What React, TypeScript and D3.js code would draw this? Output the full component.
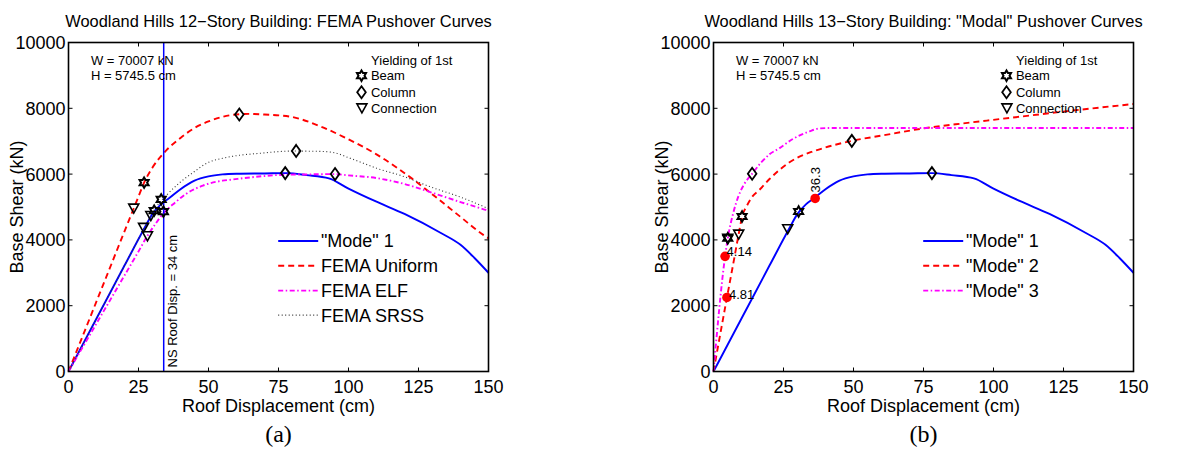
import React from 'react';
import * as d3 from 'd3';

const FONT = '"Liberation Sans", Arial, Helvetica, sans-serif';
const SERIF = '"Liberation Serif", "Times New Roman", serif';

// Shared axes
const xTicks = [0, 25, 50, 75, 100, 125, 150];
const yTicks = [0, 2000, 4000, 6000, 8000, 10000];
const xDomain = [0, 150];
const yDomain = [0, 10000];

// Panel (a): 12-story building, FEMA load patterns
const mode1X = [0, 10, 20, 27, 30, 33, 36, 40, 45, 50, 55, 60, 70, 78, 85, 93, 100, 110, 120, 133, 140, 145, 150];
const mode1Y = [0, 1610, 3220, 4340, 4790, 5080, 5270, 5540, 5800, 5930, 5990, 6010, 6020, 6030, 5970, 5870, 5560, 5160, 4790, 4210, 3850, 3450, 3000];

const uniformX = [0, 10, 20, 25, 27, 30, 35, 40, 45, 50, 55, 61, 65, 70, 79, 90, 98, 110, 124, 130, 140, 148, 150];
const uniformY = [0, 2130, 4260, 5320, 5740, 6200, 6730, 7100, 7400, 7600, 7740, 7820, 7830, 7810, 7750, 7450, 7140, 6600, 5780, 5380, 4700, 4160, 4050];

const elfX = [0, 10, 20, 25, 28, 31, 34, 38, 42, 48, 55, 58, 65, 77, 85, 95, 100, 110, 115, 120, 130, 140, 149, 150];
const elfY = [0, 1460, 2920, 3650, 4100, 4480, 4820, 5130, 5400, 5650, 5800, 5830, 5900, 5980, 5990, 6000, 5960, 5880, 5800, 5700, 5430, 5150, 4910, 4880];

const srssX = [0, 10, 20, 25, 29, 32, 35, 40, 45, 50, 55, 60, 68, 80, 90, 95, 100, 105, 110, 120, 129, 140, 150];
const srssY = [0, 1610, 3220, 4030, 4670, 5080, 5360, 5760, 6080, 6360, 6480, 6560, 6630, 6700, 6690, 6650, 6500, 6340, 6180, 5920, 5620, 5300, 4950];

// First-yield markers, panel (a): [displacement, base shear]
const beamA: [number, number][] = [[27, 5740], [30.6, 4890], [33.9, 4860], [33.1, 5230]];
const columnA: [number, number][] = [[61, 7810], [77.4, 6030], [95.2, 6000], [81.3, 6705]];
const connectionA: [number, number][] = [[23.3, 4966], [26.8, 4380], [28.2, 4125], [29.4, 4740]];

const nsRoofDisp = 34;

// Panel (b): 13-story building, modal patterns
const mode2X = [0, 4.81, 7, 9, 10.2, 12, 14, 16.4, 20, 23.6, 27, 30.7, 35.5, 40, 49.4, 60, 75.9, 90, 102, 125, 150];
const mode2Y = [0, 2250, 3250, 4180, 4700, 5050, 5330, 5520, 5850, 6130, 6350, 6530, 6690, 6810, 7010, 7170, 7400, 7550, 7670, 7900, 8130];

const mode3X = [0, 4.14, 5.1, 7, 9, 11, 13.8, 17, 20, 23.6, 28, 34.3, 38, 42, 150];
const mode3Y = [0, 3500, 4050, 4800, 5350, 5700, 6010, 6350, 6600, 6790, 7050, 7300, 7390, 7400, 7400];

const beamB: [number, number][] = [[30.4, 4863], [10.2, 4711], [5.1, 4050]];
const columnB: [number, number][] = [[78, 6030], [49.4, 7010], [13.8, 6009]];
const connectionB: [number, number][] = [[26.5, 4337], [9.0, 4176], [5.1, 4050]];

// Labelled points (roof displacement value, base shear)
const dotX = [4.14, 4.81, 36.3];
const dotY = [3500, 2250, 5260];
const dotLabels = ['4.14', '4.81', '36.3'];

const zip = (xs: number[], ys: number[]): [number, number][] => xs.map((x, i) => [x, ys[i]]);

const PW = 420;
const PH = 329;
const TOP = 42.5;

const hexPath = (() => {
  const ro = 5.2, ri = ro / Math.sqrt(3);
  const pts: string[] = [];
  for (let i = 0; i < 12; i++) {
    const a = (-90 + i * 30) * Math.PI / 180;
    const r = i % 2 === 0 ? ro : ri;
    pts.push(`${(r * Math.cos(a)).toFixed(2)},${(r * Math.sin(a)).toFixed(2)}`);
  }
  return 'M' + pts.join('L') + 'Z';
})();
const diamondPath = 'M0,-6L4.3,0L0,6L-4.3,0Z';
const triPath = 'M-5,-4L5,-4L0,5Z';

type Series = { data: [number, number][]; color: string; dash?: string; width: number; name: string };

function Marker({ d, x, y, w = 1.6 }: { d: string; x: number; y: number; w?: number }) {
  return <path d={d} transform={`translate(${x},${y})`} fill="none" stroke="#000" strokeWidth={w} strokeLinejoin="miter" />;
}

function Panel(props: {
  left: number;
  title: string;
  label: string;
  series: Series[];
  beam: [number, number][];
  column: [number, number][];
  connection: [number, number][];
  extra?: (x: d3.ScaleLinear<number, number>, y: d3.ScaleLinear<number, number>) => React.ReactNode;
}) {
  const { left, title, label, series, beam, column, connection, extra } = props;
  const x = d3.scaleLinear().domain(xDomain).range([0, PW]);
  const y = d3.scaleLinear().domain(yDomain).range([PH, 0]);
  const line = d3.line<[number, number]>().x(d => x(d[0])).y(d => y(d[1])).curve(d3.curveMonotoneX);
  const legendY = [198.5, 223.3, 248.1, 272.6];
  const tickLen = 4;
  return (
    <g transform={`translate(${left},${TOP})`} fontFamily={FONT}>
      <text x={PW / 2} y={-15.8} textAnchor="middle" fontSize={16.4}>{title}</text>
      {series.map((s, i) => (
        <path key={i} d={line(s.data) || ''} fill="none" stroke={s.color} strokeWidth={s.width}
          strokeDasharray={s.dash} />
      ))}
      {extra && extra(x, y)}
      {beam.map((p, i) => <Marker key={'b' + i} d={hexPath} x={x(p[0])} y={y(p[1])} w={2} />)}
      {column.map((p, i) => <Marker key={'c' + i} d={diamondPath} x={x(p[0])} y={y(p[1])} w={1.8} />)}
      {connection.map((p, i) => <Marker key={'n' + i} d={triPath} x={x(p[0])} y={y(p[1])} />)}

      {/* axes box with inward ticks */}
      <rect x={0} y={0} width={PW} height={PH} fill="none" stroke="#000" strokeWidth={1.6} />
      {xTicks.map(t => (
        <g key={'xt' + t}>
          <line x1={x(t)} x2={x(t)} y1={PH} y2={PH - tickLen} stroke="#000" strokeWidth={1} />
          <line x1={x(t)} x2={x(t)} y1={0} y2={tickLen} stroke="#000" strokeWidth={1} />
          <text x={x(t)} y={PH + 21} textAnchor="middle" fontSize={18}>{t}</text>
        </g>
      ))}
      {yTicks.map(t => (
        <g key={'yt' + t}>
          <line x1={0} x2={tickLen} y1={y(t)} y2={y(t)} stroke="#000" strokeWidth={1} />
          <line x1={PW} x2={PW - tickLen} y1={y(t)} y2={y(t)} stroke="#000" strokeWidth={1} />
          <text x={-3} y={y(t)} dy="0.36em" textAnchor="end" fontSize={18}>{t}</text>
        </g>
      ))}
      <text x={PW / 2} y={PH + 40} textAnchor="middle" fontSize={18}>Roof Displacement (cm)</text>
      <text transform={`translate(-45.5,${PH / 2}) rotate(-90)`} textAnchor="middle" fontSize={18}>Base Shear (kN)</text>

      {/* building data */}
      <text x={22.4} y={22} fontSize={13}>W = 70007 kN</text>
      <text x={22.4} y={37.8} fontSize={13}>H = 5745.5 cm</text>

      {/* yield marker key */}
      <text x={302.6} y={22} fontSize={13}>Yielding of 1st</text>
      <Marker d={hexPath} x={293} y={33.2} w={2} />
      <text x={302.4} y={37.8} fontSize={13}>Beam</text>
      <Marker d={diamondPath} x={293} y={49.8} w={1.8} />
      <text x={302.4} y={54.4} fontSize={13}>Column</text>
      <Marker d={triPath} x={293.4} y={65.4} />
      <text x={302.4} y={70.4} fontSize={13}>Connection</text>

      {/* series legend */}
      {series.map((s, i) => (
        <g key={'lg' + i}>
          <line x1={209.7} x2={249.7} y1={legendY[i]} y2={legendY[i]} stroke={s.color}
            strokeWidth={s.width} strokeDasharray={s.dash} />
          <text x={252.4} y={legendY[i]} dy="0.36em" fontSize={18}>{s.name}</text>
        </g>
      ))}

      <text x={PW / 2} y={399.5} textAnchor="middle" fontSize={24} fontFamily={SERIF}>{label}</text>
    </g>
  );
}

export default function App() {
  const seriesA: Series[] = [
    { data: zip(mode1X, mode1Y), color: '#0000ff', width: 1.9, name: '"Mode" 1' },
    { data: zip(uniformX, uniformY), color: '#ff0000', width: 1.9, dash: '6,4', name: 'FEMA Uniform' },
    { data: zip(elfX, elfY), color: '#ff00ff', width: 1.9, dash: '5,2.5,1.5,2.5', name: 'FEMA ELF' },
    { data: zip(srssX, srssY), color: '#333333', width: 1.1, dash: '1,2.5', name: 'FEMA SRSS' },
  ];
  const seriesB: Series[] = [
    { data: zip(mode1X, mode1Y), color: '#0000ff', width: 1.9, name: '"Mode" 1' },
    { data: zip(mode2X, mode2Y), color: '#ff0000', width: 1.9, dash: '6,4', name: '"Mode" 2' },
    { data: zip(mode3X, mode3Y), color: '#ff00ff', width: 1.9, dash: '5,2.5,1.5,2.5', name: '"Mode" 3' },
  ];
  return (
    <svg width={1179} height={456} style={{ position: 'absolute', left: 0, top: 0, background: '#fff' }}>
      <rect width={1179} height={456} fill="#fff" />
      <Panel
        left={68.5}
        title="Woodland Hills 12−Story Building: FEMA Pushover Curves"
        label="(a)"
        series={seriesA}
        beam={beamA}
        column={columnA}
        connection={connectionA}
        extra={(x, y) => (
          <g>
            <line x1={x(nsRoofDisp)} x2={x(nsRoofDisp)} y1={0} y2={PH} stroke="#0000ff" strokeWidth={1.5} />
            <text transform={`translate(${x(nsRoofDisp) + 13.5},${PH - 4}) rotate(-90)`} fontSize={13}>
              NS Roof Disp. = {nsRoofDisp} cm
            </text>
          </g>
        )}
      />
      <Panel
        left={713.5}
        title={'Woodland Hills 13−Story Building: "Modal" Pushover Curves'}
        label="(b)"
        series={seriesB}
        beam={beamB}
        column={columnB}
        connection={connectionB}
        extra={(x, y) => (
          <g>
            {dotX.map((dx, i) => (
              <circle key={'d' + i} cx={x(dx)} cy={y(dotY[i])} r={4.8} fill="#ff0000" />
            ))}
            <text x={x(dotX[0]) + 1.5} y={y(dotY[0]) - 0.5} fontSize={13}>{dotLabels[0]}</text>
            <text x={x(dotX[1]) + 2} y={y(dotY[1]) + 2} fontSize={13}>{dotLabels[1]}</text>
            <text transform={`translate(${x(dotX[2]) + 4.5},${y(dotY[2]) - 6}) rotate(-90)`} fontSize={13}>{dotLabels[2]}</text>
          </g>
        )}
      />
    </svg>
  );
}
